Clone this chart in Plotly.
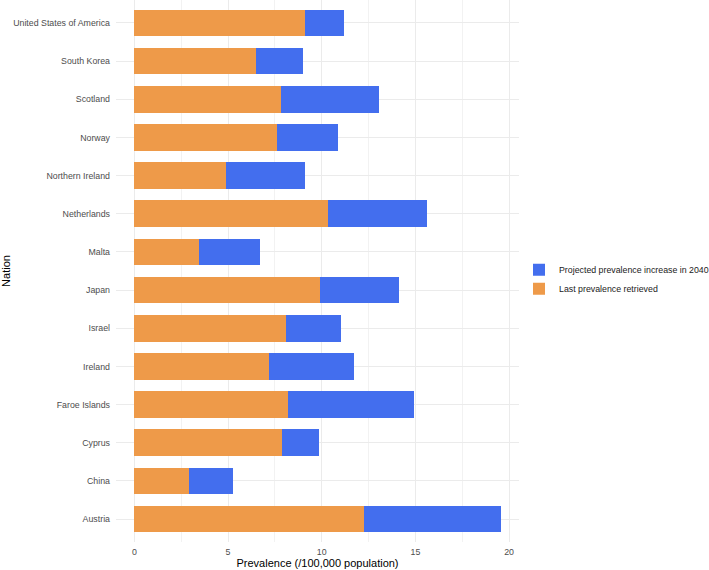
import plotly.graph_objects as go

nations = ["Austria", "China", "Cyprus", "Faroe Islands", "Ireland", "Israel", "Japan",
           "Malta", "Netherlands", "Northern Ireland", "Norway", "Scotland", "South Korea",
           "United States of America"]
last_prev = [12.24, 2.92, 7.89, 8.18, 7.20, 8.09, 9.91, 3.44, 10.32, 4.90, 7.61, 7.82, 6.49, 9.11]
total_2040 = [19.55, 5.29, 9.86, 14.90, 11.74, 11.02, 14.15, 6.72, 15.63, 9.11, 10.85, 13.08, 9.02, 11.21]
increase = [round(t - l, 2) for t, l in zip(total_2040, last_prev)]

xticks = [0, 5, 10, 15, 20]

fig = go.Figure()
fig.add_trace(go.Bar(y=nations, x=last_prev, orientation="h", name="Last prevalence retrieved",
                     marker=dict(color="#EE9A49", line=dict(width=0)), width=0.7))
fig.add_trace(go.Bar(y=nations, x=increase, orientation="h", name="Projected prevalence increase in 2040",
                     marker=dict(color="#436EEE", line=dict(width=0)), width=0.7))

fig.update_layout(
    width=709, height=570,
    barmode="stack",
    plot_bgcolor="white", paper_bgcolor="white",
    margin=dict(l=116, r=190, t=0, b=28, autoexpand=False),
    font=dict(family="Liberation Sans", size=8.8, color="#4d4d4d"),
    legend=dict(x=1.0, y=0.485, xanchor="left", yanchor="middle", traceorder="reversed",
                font=dict(size=8.8, color="#1a1a1a"), itemwidth=30, tracegroupgap=0),
    xaxis=dict(range=[-0.98, 20.53], tickvals=xticks, ticktext=[str(v) for v in xticks],
               showgrid=True, gridcolor="#ebebeb", gridwidth=1, zeroline=False,
               showline=False, ticks="", ticklabelstandoff=3,
               minor=dict(tickvals=[2.5, 7.5, 12.5, 17.5], showgrid=True, gridcolor="#f2f2f2", gridwidth=0.6),
               title=dict(text="Prevalence (/100,000 population)", font=dict(size=11, color="black"), standoff=2),
               automargin=False),
    yaxis=dict(categoryorder="array", categoryarray=nations, range=[-0.6, 13.6],
               showgrid=True, gridcolor="#ebebeb", gridwidth=1, zeroline=False, showline=False,
               ticks="", ticklabelstandoff=5,
               title=dict(text="Nation", font=dict(size=11, color="black")),
               automargin=False),
)

fig.write_html("out.html")
